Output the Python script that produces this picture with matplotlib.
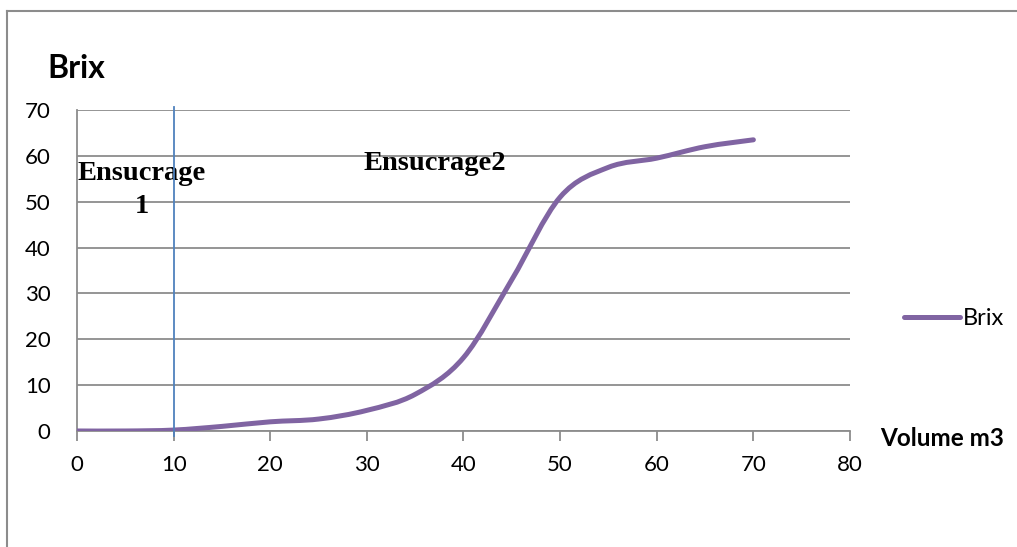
import numpy as np
import matplotlib.pyplot as plt
from matplotlib.path import Path
from matplotlib.patches import PathPatch
from matplotlib.lines import Line2D

# valeurs
volume = [0, 5, 10, 15, 20, 25, 30, 35, 40, 45, 50, 55, 60, 65, 70]
brix = [0, 0, 0.2, 1.0, 2.0, 2.6, 4.5, 8.0, 16.0, 33.0, 51.0, 57.5, 59.5, 62.0, 63.5]
x_ticks = [0, 10, 20, 30, 40, 50, 60, 70, 80]
y_ticks = [0, 10, 20, 30, 40, 50, 60, 70]
limite_ensucrage = 10

purple = '#8064a2'
grid_gray = '#8c8c8c'
sans = ['Lato', 'DejaVu Sans']
serif = ['Liberation Serif', 'DejaVu Serif']


def smooth_path(xs, ys):
    """Courbe lissée façon Excel (Bézier cubiques passant par les points)."""
    pts = np.column_stack([xs, ys]).astype(float)
    n = len(pts)
    verts = [pts[0]]
    codes = [Path.MOVETO]
    for i in range(n - 1):
        p0 = pts[max(i - 1, 0)]
        p1 = pts[i]
        p2 = pts[i + 1]
        p3 = pts[min(i + 2, n - 1)]
        c1 = p1 + (p2 - p0) / 6.0
        c2 = p2 - (p3 - p1) / 6.0
        verts += [c1, c2, p2]
        codes += [Path.CURVE4] * 3
    return Path(verts, codes)


fig = plt.figure(figsize=(10.17, 5.47), dpi=100)
ax = fig.add_axes([0.0757, 0.2121, 0.7601, 0.5868])

ax.set_xlim(0, 80)
ax.set_ylim(0, 70)
ax.set_xticks(x_ticks)
ax.set_yticks(y_ticks)
ax.yaxis.grid(True, color=grid_gray, linewidth=1.3)
ax.set_axisbelow(True)

for side in ['top', 'right']:
    ax.spines[side].set_visible(False)
for side in ['left', 'bottom']:
    ax.spines[side].set_color(grid_gray)
    ax.spines[side].set_linewidth(1.3)

ax.tick_params(axis='x', direction='out', length=7, width=1.3, color=grid_gray,
               labelsize=16, pad=10)
ax.tick_params(axis='y', length=0, labelsize=16, pad=19)
for lab in ax.get_xticklabels() + ax.get_yticklabels():
    lab.set_family(sans)

# courbe lissée
patch = PathPatch(smooth_path(volume, brix), facecolor='none', edgecolor=purple,
                  linewidth=3.6, capstyle='round', transform=ax.transData, zorder=3)
ax.add_patch(patch)

# séparation des ensucrages
ax.plot([limite_ensucrage, limite_ensucrage], [-1, 70.7], color='#4f81bd',
        linewidth=1.3, clip_on=False, zorder=4)

ax.text(0.1, 52.6, 'Ensucrage\n1', family=serif, fontweight='bold', fontsize=20.5,
        ha='left', va='center', linespacing=1.4, ma='center')
ax.text(29.6, 58.3, 'Ensucrage2', family=serif, fontweight='bold', fontsize=20.5,
        ha='left', va='center')

fig.text(0.047, 0.875, 'Brix', family=sans, fontweight='bold', fontsize=23,
         ha='left', va='center')
fig.text(0.865, 0.199, 'Volume m3', family=sans, fontweight='bold', fontsize=17.5,
         ha='left', va='center')

handle = Line2D([], [], color=purple, linewidth=3.6, solid_capstyle='round')
fig.legend([handle], ['Brix'], loc='center left', bbox_to_anchor=(0.877, 0.418),
           frameon=False, prop={'family': sans, 'size': 17}, handlelength=2.4,
           handletextpad=0.1, borderpad=0)

# cadre du graphique
fig.add_artist(Line2D([0.007, 0.007], [0.0, 0.98], color=grid_gray, linewidth=1.5))
fig.add_artist(Line2D([0.007, 1.0], [0.98, 0.98], color=grid_gray, linewidth=1.5))

fig.savefig('out.png', dpi=100, facecolor='white')
